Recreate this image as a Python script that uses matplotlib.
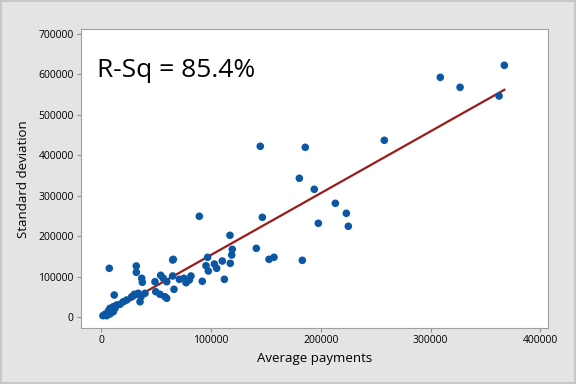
import numpy as np
import matplotlib
matplotlib.use("Agg")
import matplotlib.pyplot as plt

plt.rcParams['font.family'] = ['Open Sans', 'DejaVu Sans']

# Dados (pagamentos medios x desvio padrao)
avg_pay = [7300, 31900, 31900, 36800, 37400, 11800, 33700, 36200, 35300, 39800,
           48900, 49600, 53500, 58000, 56500, 59600, 54100, 27700, 30100, 23100,
           20000, 17000, 14000, 10900, 7900, 6400, 3400, 4900, 10900, 12500,
           1500, 7900, 59600,
           65000, 65600, 65000, 66200, 71100, 75300, 77200, 80200, 81700, 92000,
           89300, 96900, 95400, 97500, 103000, 105100, 110200, 112100, 117500, 118800,
           119300, 117200, 141200, 146700, 144800, 152800, 157300, 183100, 185800, 180400,
           194000, 197700, 213200, 223200, 225000, 257800, 308800, 326800, 367100, 362300]
std_dev = [121100, 126800, 111200, 96400, 86500, 55100, 59300, 50900, 38500, 59300,
           88000, 63300, 56800, 50900, 96400, 88000, 103800, 50900, 56800, 42700,
           38500, 32100, 30400, 26200, 22200, 15600, 7400, 4000, 13800, 22200,
           4000, 8200, 47000,
           141600, 143300, 102100, 69200, 93900, 96400, 85500, 92200, 102100, 89000,
           249600, 148300, 127500, 114400, 131700, 121100, 139100, 93900, 133400, 154000,
           168000, 202600, 170500, 247100, 422500, 143300, 148300, 140800, 420100, 343500,
           316300, 232300, 281700, 257000, 224900, 437400, 593000, 568300, 622700, 546800]

x_ticks = [0, 100000, 200000, 300000, 400000]
y_ticks = [0, 100000, 200000, 300000, 400000, 500000, 600000, 700000]
rsq_text = "R-Sq = 85.4%"

x = np.array(avg_pay)
y = np.array(std_dev)

fig = plt.figure(figsize=(5.76, 3.84), dpi=100, facecolor='#e4e4e4',
                 edgecolor='#c8c8c8', linewidth=1.5)
ax = fig.add_axes([0.140, 0.145, 0.812, 0.7795])
ax.set_facecolor('white')

# reta de regressao
b1, b0 = np.polyfit(x, y, 1)
xl = np.array([x.min(), x.max()])
ax.plot(xl, b0 + b1 * xl, color='#9b1b1b', lw=1.6, zorder=2)

ax.scatter(x, y, s=30, color='#0b57a4', edgecolors='none', zorder=3)

ax.text(-4000, 611000, rsq_text, fontsize=19, va='center', ha='left', color='black')

ax.set_xlim(-18800, 407200)
ax.set_ylim(-27200, 712400)
ax.set_xticks(x_ticks)
ax.set_yticks(y_ticks)
ax.set_xticklabels([str(v) for v in x_ticks])
ax.set_yticklabels([str(v) for v in y_ticks])
ax.tick_params(labelsize=7.5, length=3, color='#909090', pad=2)
for s in ax.spines.values():
    s.set_color('#a0a0a0')
ax.set_xlabel("Average payments", fontsize=9.5, labelpad=4)
ax.set_ylabel("Standard deviation", fontsize=9.5, labelpad=6)

fig.savefig("out.png", dpi=100, facecolor=fig.get_facecolor(), edgecolor=fig.get_edgecolor())
